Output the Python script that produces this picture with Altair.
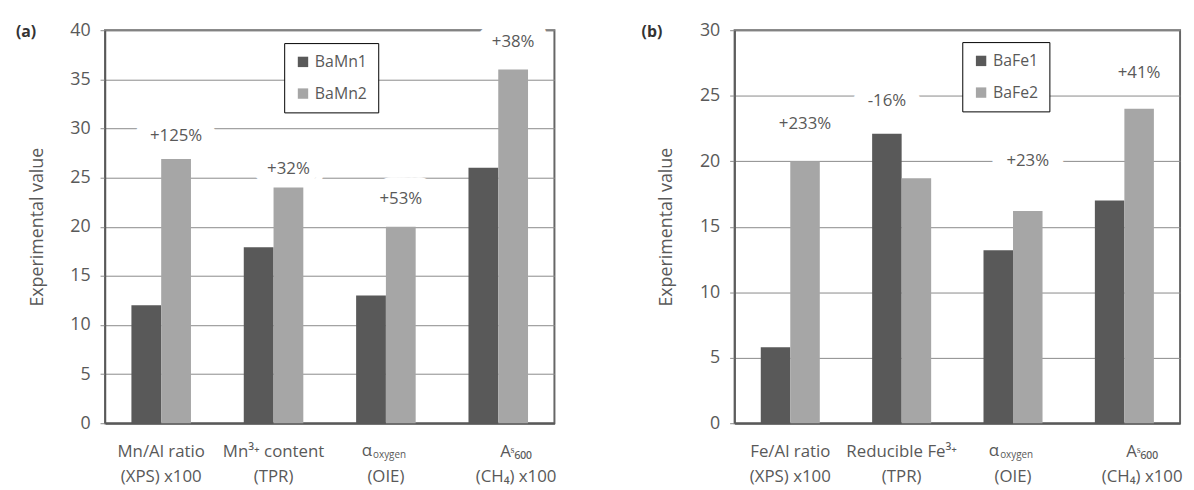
import altair as alt
import pandas as pd

# ---------------- data ----------------
# panel (a)
cats_a = ["Mn/Al ratio|(XPS) x100", "Mn³⁺ content|(TPR)", "αoxygen|(OIE)", "Aˢ₆₀₀|(CH₄)  x100"]
series_a = ["BaMn1", "BaMn2"]
bamn1 = [12, 17.9, 13, 26]
bamn2 = [26.9, 24, 20, 36]
pct_a = ["+125%", "+32%", "+53%", "+38%"]
pct_a_y = [29.2, 25.9, 22.8, 38.8]
pct_a_over = ["BaMn2", "BaMn2", "BaMn2", "BaMn2"]

# panel (b)
cats_b = ["Fe/Al ratio|(XPS) x100", "Reducible Fe³⁺|(TPR)", "αoxygen|(OIE)", "Aˢ₆₀₀|(CH₄)  x100"]
series_b = ["BaFe1", "BaFe2"]
bafe1 = [5.8, 22.1, 13.2, 17.0]
bafe2 = [20.0, 18.7, 16.2, 24.0]
pct_b = ["+233%", "-16%", "+23%", "+41%"]
pct_b_y = [22.8, 24.6, 20.0, 26.7]
pct_b_over = ["BaFe2", "BaFe1", "BaFe2", "BaFe2"]

DARK = "#595959"
LIGHT = "#a6a6a6"
TXT = "#595959"
FONT = "Open Sans"
H = 397


def panel(cats, series, v1, v2, pct, pct_y, pct_over, ymax, tag, tag_x, leg_x, leg_y, width):
    bars = pd.DataFrame({
        "cat": cats * 2,
        "series": [series[0]] * len(cats) + [series[1]] * len(cats),
        "value": list(v1) + list(v2),
    })
    labels = pd.DataFrame({"cat": cats, "series": pct_over, "value": pct_y, "t": pct})

    x_enc = alt.X(
        "cat:N", sort=cats, title=None,
        scale=alt.Scale(paddingInner=0.47, paddingOuter=0.235),
        axis=alt.Axis(
            labelExpr="split(replace(datum.label, 'αoxygen', ' '), '|')",
            labelOffset={"condition": {"test": "indexof(datum.label, 'CH') >= 0", "value": 18},
                         "value": 0},
            labelAngle=0, ticks=False, grid=False, labelFontSize=17,
            labelColor=TXT, labelPadding=21, labelLineHeight=25,
            domainColor=DARK, domainWidth=2, labelFont=FONT,
        ),
    )
    y_scale = alt.Scale(domain=[0, ymax], nice=False)
    y_enc = alt.Y(
        "value:Q", scale=y_scale,
        axis=alt.Axis(
            values=list(range(0, ymax + 1, 5)), title="Experimental value",
            grid=True, gridColor="#8a8a8a", gridWidth=1,
            domainColor=DARK, domainWidth=1.5, tickColor="#8a8a8a", tickSize=5,
            labelFontSize=18, labelColor=TXT, labelPadding=10, labelFont=FONT,
            titleFontSize=18, titleColor=TXT, titleFontWeight="normal",
            titlePadding=24, titleFont=FONT,
        ),
    )
    xo = alt.XOffset("series:N", sort=series)

    halo = alt.Chart(labels).mark_text(
        fontSize=17, font=FONT, color="white", stroke="white", strokeWidth=30,
        strokeJoin="round",
    ).encode(x=x_enc, xOffset=xo, y=y_enc, text="t:N")

    bar = alt.Chart(bars).mark_bar().encode(
        x=x_enc, y=y_enc, xOffset=xo,
        color=alt.Color(
            "series:N", sort=series,
            scale=alt.Scale(domain=series, range=[DARK, LIGHT]),
            legend=alt.Legend(
                orient="none", legendX=leg_x, legendY=leg_y, title=None,
                symbolType="square", symbolSize=110, symbolStrokeWidth=0,
                labelFontSize=16, labelColor=TXT, labelFont=FONT,
                rowPadding=16, padding=11, strokeColor="black",
                fillColor="white", labelLimit=200,
            ),
        ),
    )

    txt = alt.Chart(labels).mark_text(fontSize=17, font=FONT, color=TXT).encode(
        x=x_enc, xOffset=xo, y=y_enc, text="t:N")

    alpha_df = pd.DataFrame({"cat": [cats[2]], "a": ["α"], "o": ["oxygen"]})
    alpha = alt.Chart(alpha_df).mark_text(
        fontSize=17, font=FONT, color=TXT, align="right", dx=-14, baseline="middle"
    ).encode(x=x_enc, y=alt.value(H + 28), text="a:N")
    oxy = alt.Chart(alpha_df).mark_text(
        fontSize=10, font=FONT, color=TXT, align="left", dx=-13, baseline="middle"
    ).encode(x=x_enc, y=alt.value(H + 32), text="o:N")

    tag_df = pd.DataFrame({"t": [tag]})
    tagm = alt.Chart(tag_df).mark_text(
        fontSize=16, font=FONT, fontWeight="bold", color="#333333", align="left",
        baseline="middle",
    ).encode(x=alt.value(tag_x), y=alt.value(2), text="t:N")

    return alt.layer(halo, bar, txt, alpha, oxy, tagm).properties(width=width, height=H)


pa = panel(cats_a, series_a, bamn1, bamn2, pct_a, pct_a_y, pct_a_over, 40, "(a)", -90, 181, 13, 454)
pb = panel(cats_b, series_b, bafe1, bafe2, pct_b, pct_b_y, pct_b_over, 30, "(b)", -94, 230, 12, 450)

chart = alt.hconcat(pa, pb, spacing=82).resolve_scale(
    x="independent", y="independent", color="independent", xOffset="independent"
).resolve_legend(color="independent").properties(
    padding={"left": 7, "top": 10, "right": 0, "bottom": 0}
).configure(font=FONT).configure_view(stroke="#666666", strokeWidth=2)

chart.save("out.html", embed_options={"renderer": "svg", "actions": False})
